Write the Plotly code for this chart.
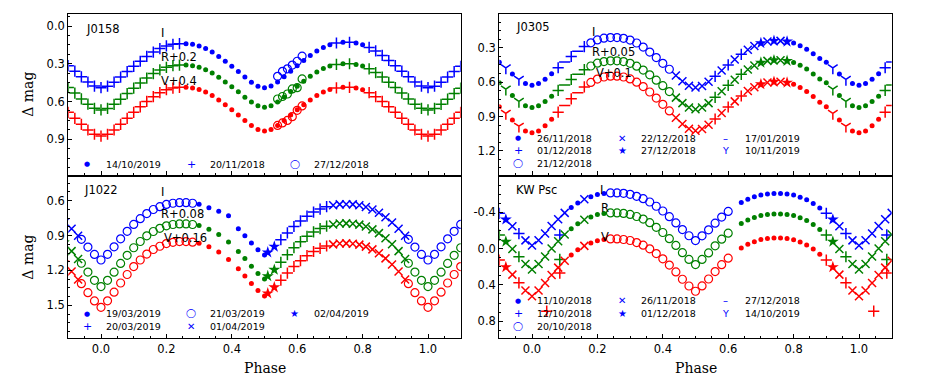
import plotly.graph_objects as go

# ---------------- data ----------------
phase_ticks = [0.0, 0.2, 0.4, 0.6, 0.8, 1.0]
phase_labels = ["0.0", "0.2", "0.4", "0.6", "0.8", "1.0"]

# J0158
j0158_dates = ["14/10/2019", "20/11/2018", "27/12/2018"]
j0158_marks = ["dot", "plus", "circle"]
j0158_bands = ["I", "R+0.2", "V+0.4"]
j0158_yticks = [0.0, 0.3, 0.6, 0.9]
j0158_ylabels = ["0.0", "0.3", "0.6", "0.9"]
j0158_phase = [0.00, 0.02, 0.04, 0.06, 0.08, 0.10, 0.12, 0.14, 0.16, 0.18, 0.20, 0.22, 0.24,
               0.26, 0.28, 0.30, 0.32, 0.34, 0.36, 0.38, 0.40, 0.42, 0.44, 0.46, 0.48,
               0.50, 0.52, 0.54, 0.56, 0.58, 0.60, 0.62, 0.64, 0.66, 0.68, 0.70, 0.72, 0.74,
               0.76, 0.78, 0.80, 0.82, 0.84, 0.86, 0.88, 0.90, 0.92, 0.94, 0.96, 0.98,
               0.54, 0.555, 0.57, 0.585, 0.60, 0.615]
j0158_I = [0.490, 0.478, 0.446, 0.406, 0.362, 0.320, 0.280, 0.242, 0.207, 0.179, 0.158, 0.145, 0.140,
           0.140, 0.145, 0.158, 0.179, 0.207, 0.242, 0.280, 0.320, 0.362, 0.406, 0.446, 0.478,
           0.490, 0.477, 0.445, 0.404, 0.359, 0.315, 0.274, 0.234, 0.198, 0.170, 0.148, 0.135, 0.130,
           0.130, 0.135, 0.148, 0.170, 0.198, 0.234, 0.274, 0.315, 0.359, 0.404, 0.445, 0.477,
           0.40, 0.36, 0.34, 0.31, 0.28, 0.24]
j0158_R = [0.667, 0.655, 0.622, 0.581, 0.537, 0.494, 0.453, 0.414, 0.378, 0.349, 0.328, 0.315, 0.310,
           0.310, 0.315, 0.327, 0.347, 0.374, 0.407, 0.444, 0.483, 0.523, 0.565, 0.604, 0.634,
           0.646, 0.634, 0.603, 0.563, 0.520, 0.478, 0.438, 0.400, 0.366, 0.338, 0.317, 0.305, 0.300,
           0.300, 0.306, 0.318, 0.340, 0.370, 0.406, 0.447, 0.489, 0.533, 0.579, 0.621, 0.654,
           0.58, 0.56, 0.54, 0.50, 0.49, 0.42]
j0158_V = [0.874, 0.860, 0.826, 0.781, 0.733, 0.686, 0.642, 0.599, 0.561, 0.530, 0.506, 0.493, 0.487,
           0.487, 0.492, 0.504, 0.525, 0.553, 0.588, 0.626, 0.666, 0.707, 0.751, 0.791, 0.822,
           0.834, 0.822, 0.791, 0.751, 0.707, 0.666, 0.626, 0.588, 0.553, 0.525, 0.504, 0.492, 0.487,
           0.487, 0.493, 0.506, 0.530, 0.561, 0.599, 0.642, 0.686, 0.733, 0.781, 0.826, 0.860,
           0.79, 0.77, 0.75, 0.72, 0.67, 0.635]
j0158_night = [1, 1, 1, 1, 1, 1, 1, 1, 1, 1, 1, 1, 1,
               0, 0, 0, 0, 0, 0, 0, 0, 0, 0, 0, 0,
               0, 0, 0, 0, 0, 0, 0, 0, 0, 0, 0, 1, 0,
               1, 0, 0, 1, 1, 1, 1, 1, 1, 1, 1, 1,
               2, 2, 2, 2, 2, 2]

# J0305
j0305_dates = ["26/11/2018", "01/12/2018", "21/12/2018", "22/12/2018",
               "27/12/2018", "17/01/2019", "10/11/2019"]
j0305_marks = ["dot", "plus", "circle", "x", "star", "dash", "tri"]
j0305_bands = ["I", "R+0.05", "V+0.1"]
j0305_yticks = [0.3, 0.6, 0.9, 1.2]
j0305_ylabels = ["0.3", "0.6", "0.9", "1.2"]
j0305_phase = [0.00, 0.02, 0.04, 0.06, 0.08, 0.10, 0.12, 0.14, 0.16, 0.18, 0.20, 0.22, 0.24,
               0.26, 0.28, 0.30, 0.32, 0.34, 0.36, 0.38, 0.40, 0.42, 0.44, 0.46, 0.48,
               0.50, 0.52, 0.54, 0.56, 0.58, 0.60, 0.62, 0.64, 0.66, 0.68, 0.70, 0.72, 0.74,
               0.76, 0.78, 0.80, 0.82, 0.84, 0.86, 0.88, 0.90, 0.92, 0.94, 0.96, 0.98]
j0305_I = [0.626, 0.611, 0.574, 0.526, 0.474, 0.424, 0.376, 0.331, 0.289, 0.256, 0.231, 0.216, 0.210,
           0.210, 0.217, 0.232, 0.258, 0.293, 0.337, 0.385, 0.435, 0.487, 0.542, 0.592, 0.632,
           0.647, 0.633, 0.596, 0.549, 0.498, 0.449, 0.402, 0.357, 0.317, 0.284, 0.259, 0.245, 0.239,
           0.239, 0.245, 0.258, 0.282, 0.313, 0.351, 0.394, 0.425, 0.475, 0.528, 0.576, 0.612]
j0305_R = [0.821, 0.807, 0.770, 0.723, 0.672, 0.624, 0.577, 0.532, 0.491, 0.459, 0.434, 0.420, 0.414,
           0.414, 0.420, 0.435, 0.460, 0.494, 0.536, 0.583, 0.631, 0.682, 0.735, 0.783, 0.821,
           0.836, 0.821, 0.783, 0.733, 0.680, 0.628, 0.579, 0.532, 0.489, 0.455, 0.429, 0.414, 0.408,
           0.408, 0.414, 0.429, 0.453, 0.486, 0.528, 0.573, 0.605, 0.660, 0.716, 0.767, 0.807]
j0305_V = [1.043, 1.026, 0.981, 0.924, 0.862, 0.803, 0.746, 0.692, 0.642, 0.602, 0.573, 0.555, 0.548,
           0.548, 0.555, 0.572, 0.600, 0.639, 0.686, 0.739, 0.794, 0.851, 0.911, 0.965, 1.008,
           1.025, 1.010, 0.972, 0.922, 0.869, 0.817, 0.768, 0.721, 0.678, 0.644, 0.618, 0.603, 0.597,
           0.597, 0.604, 0.619, 0.646, 0.682, 0.726, 0.775, 0.815, 0.872, 0.930, 0.985, 1.027]
j0305_night = [0, 0, 0, 0, 1, 5, 1, 5, 1, 2, 2, 2, 2,
               2, 2, 2, 2, 2, 2, 2, 2, 2, 3, 3, 3,
               3, 3, 3, 1, 3, 1, 3, 1, 3, 3, 4, 3, 4,
               3, 4, 0, 0, 0, 0, 0, 0, 6, 0, 6, 0]

# J1022
j1022_dates = ["19/03/2019", "20/03/2019", "21/03/2019", "01/04/2019", "02/04/2019"]
j1022_marks = ["dot", "plus", "circle", "x", "star"]
j1022_bands = ["I", "R+0.08", "V+0.16"]
j1022_yticks = [0.6, 0.9, 1.2, 1.5]
j1022_ylabels = ["0.6", "0.9", "1.2", "1.5"]
j1022_phase = [0.00, 0.02, 0.04, 0.06, 0.08, 0.10, 0.12, 0.14, 0.16, 0.18, 0.20, 0.22, 0.24, 0.26, 0.28,
               0.30, 0.33, 0.36, 0.39, 0.42, 0.44, 0.46, 0.48, 0.50,
               0.51, 0.53,
               0.55, 0.57, 0.59, 0.61, 0.63, 0.65, 0.67, 0.69,
               0.71, 0.73, 0.75, 0.77, 0.79, 0.81, 0.83, 0.85, 0.87, 0.89, 0.91, 0.93,
               0.94, 0.96, 0.98]
j1022_I = [1.110, 1.061, 0.997, 0.928, 0.864, 0.804, 0.755, 0.711, 0.676, 0.652, 0.632, 0.622, 0.617, 0.617, 0.622,
           0.631, 0.660, 0.690, 0.730, 0.842, 0.901, 0.964, 1.022, 1.067,
           1.045, 0.995,
           0.936, 0.877, 0.822, 0.774, 0.733, 0.698, 0.672, 0.652,
           0.639, 0.632, 0.630, 0.632, 0.640, 0.654, 0.676, 0.704, 0.743, 0.788, 0.841, 0.901,
           0.932, 0.999, 1.062]
j1022_R = [1.339, 1.285, 1.215, 1.140, 1.070, 1.005, 0.951, 0.902, 0.865, 0.838, 0.816, 0.805, 0.800, 0.800, 0.805,
           0.814, 0.845, 0.890, 0.956, 1.037, 1.098, 1.164, 1.226, 1.273,
           1.249, 1.194,
           1.130, 1.065, 1.005, 0.953, 0.907, 0.869, 0.840, 0.819,
           0.805, 0.797, 0.795, 0.798, 0.806, 0.822, 0.847, 0.879, 0.923, 0.975, 1.034, 1.102,
           1.138, 1.214, 1.285]
j1022_V = [1.517, 1.461, 1.387, 1.308, 1.235, 1.167, 1.110, 1.059, 1.020, 0.992, 0.969, 0.958, 0.952, 0.952, 0.957,
           0.966, 0.996, 1.041, 1.106, 1.186, 1.247, 1.312, 1.373, 1.420,
           1.397, 1.345,
           1.284, 1.223, 1.166, 1.116, 1.073, 1.037, 1.010, 0.990,
           0.976, 0.969, 0.967, 0.970, 0.978, 0.995, 1.019, 1.052, 1.096, 1.149, 1.209, 1.278,
           1.314, 1.391, 1.462]
j1022_night = [2, 2, 2, 2, 2, 2, 2, 2, 2, 2, 2, 2, 2, 2, 2,
               0, 0, 0, 0, 0, 0, 0, 0, 0,
               4, 4,
               1, 1, 1, 1, 1, 1, 1, 1,
               3, 3, 3, 3, 3, 3, 3, 3, 3, 3, 3, 3,
               2, 2, 2]

# KW Psc
kwpsc_dates = ["11/10/2018", "12/10/2018", "20/10/2018", "26/11/2018",
               "01/12/2018", "27/12/2018", "14/10/2019"]
kwpsc_marks = ["dot", "plus", "circle", "x", "star", "dash", "tri"]
kwpsc_bands = ["I", "R", "V"]
kwpsc_yticks = [-0.4, 0.0, 0.4, 0.8]
kwpsc_ylabels = ["-0.4", "0.0", "0.4", "0.8"]
kwpsc_phase = [0.00, 0.02, 0.04, 0.06, 0.08, 0.10, 0.12, 0.14, 0.16, 0.18, 0.20, 0.22, 0.24,
               0.26, 0.28, 0.30, 0.32, 0.34, 0.36, 0.38, 0.40, 0.42, 0.44, 0.46, 0.48,
               0.50, 0.52, 0.54, 0.56, 0.58, 0.60,
               0.64, 0.66, 0.68, 0.70, 0.72, 0.74,
               0.76, 0.78, 0.80, 0.82, 0.84, 0.86, 0.88, 0.90, 0.92, 0.94, 0.96, 0.98,
               0.045, 0.085]
kwpsc_I = [-0.033, -0.091, -0.166, -0.248, -0.323, -0.393, -0.451, -0.503, -0.543, -0.572, -0.596, -0.607, -0.613,
           -0.613, -0.608, -0.597, -0.576, -0.550, -0.513, -0.466, -0.414, -0.351, -0.282, -0.209, -0.141,
           -0.088, -0.140, -0.207, -0.280, -0.347, -0.409,
           -0.508, -0.544, -0.570, -0.590, -0.601, -0.606,
           -0.606, -0.600, -0.589, -0.566, -0.537, -0.497, -0.446, -0.388, -0.320, -0.245, -0.165, -0.090,
           None, -0.15]
kwpsc_R = [0.231, 0.169, 0.087, 0.000, -0.081, -0.156, -0.218, -0.274, -0.318, -0.349, -0.374, -0.387, -0.393,
           -0.393, -0.387, -0.376, -0.353, -0.325, -0.285, -0.234, -0.177, -0.109, -0.035, 0.045, 0.119,
           0.176, 0.120, 0.048, -0.030, -0.103, -0.170,
           -0.276, -0.315, -0.343, -0.365, -0.376, -0.382,
           -0.382, -0.376, -0.364, -0.339, -0.308, -0.266, -0.210, -0.149, -0.076, 0.004, 0.090, 0.170,
           None, 0.12]
kwpsc_V = [0.525, 0.462, 0.380, 0.292, 0.210, 0.134, 0.071, 0.014, -0.030, -0.062, -0.087, -0.100, -0.106,
           -0.106, -0.100, -0.089, -0.066, -0.037, 0.003, 0.055, 0.113, 0.182, 0.257, 0.338, 0.412,
           0.470, 0.411, 0.335, 0.253, 0.177, 0.106,
           -0.005, -0.047, -0.076, -0.099, -0.111, -0.117,
           -0.117, -0.111, -0.098, -0.072, -0.040, 0.005, 0.063, 0.127, 0.204, 0.287, 0.377, 0.461,
           0.69, 0.27]
kwpsc_night = [3, 3, 3, 3, 3, 3, 0, 0, 3, 0, 0, 0, 2,
               2, 2, 2, 2, 2, 2, 2, 2, 2, 2, 2, 2,
               2, 2, 2, 2, 2, 2,
               0, 0, 0, 0, 0, 0,
               0, 0, 0, 0, 0, 0, 0, 1, 4, 3, 1, 3,
               1, 1]

# ---------------- styling ----------------
W, H = 927, 381
band_colors = ["#0000ff", "#008000", "#ff0000"]
marker_style = {
    "dot": ("circle", 5, 0),
    "plus": ("cross-thin", 8, 1.5),
    "circle": ("circle-open", 8, 1.2),
    "x": ("x-thin", 8, 1.5),
    "star": ("star", 9, 0),
    "dash": ("line-ew", 8, 1.5),
    "tri": ("y-down", 8, 1.5),
}
legend_glyph = {"dot": ("●", 7), "plus": ("+", 11), "circle": ("◯", 9), "x": ("✕", 10),
                "star": ("★", 10), "dash": ("–", 10), "tri": ("Y", 9.5)}

col_left = [68.3, 499.3]
panel_w = 392.4
row_top = [14.3, 177.3]
row_bottom = [175.3, 338.0]

panels = [
    dict(name="J0158", dates=j0158_dates, marks=j0158_marks, bands=j0158_bands,
         phase=j0158_phase, mags=[j0158_I, j0158_R, j0158_V], night=j0158_night,
         yticks=j0158_yticks, ylabels=j0158_ylabels, yrange=[1.186, -0.093], minor=0.075,
         name_pos=(85, 29), band_pos=[(159.5, 33), (160, 57), (160, 81)], legend_rows=[164]),
    dict(name="J0305", dates=j0305_dates, marks=j0305_marks, bands=j0305_bands,
         phase=j0305_phase, mags=[j0305_I, j0305_R, j0305_V], night=j0305_night,
         yticks=j0305_yticks, ylabels=j0305_ylabels, yrange=[1.414, 0.007], minor=0.075,
         name_pos=(515, 27), band_pos=[(591, 32), (591, 52), (595, 73)],
         legend_rows=[138.3, 150.7, 163.3]),
    dict(name="J1022", dates=j1022_dates, marks=j1022_marks, bands=j1022_bands,
         phase=j1022_phase, mags=[j1022_I, j1022_R, j1022_V], night=j1022_night,
         yticks=j1022_yticks, ylabels=j1022_ylabels, yrange=[1.781, 0.399], minor=0.075,
         name_pos=(83, 190), band_pos=[(159.5, 192), (160, 214), (163, 238)],
         legend_rows=[313.5, 326]),
    dict(name="KW Psc", dates=kwpsc_dates, marks=kwpsc_marks, bands=kwpsc_bands,
         phase=kwpsc_phase, mags=[kwpsc_I, kwpsc_R, kwpsc_V], night=kwpsc_night,
         yticks=kwpsc_yticks, ylabels=kwpsc_ylabels, yrange=[0.985, -0.785], minor=0.1,
         name_pos=(515, 190), band_pos=[(598.5, 190), (600, 208), (600, 237)],
         legend_rows=[300.7, 313.3, 326]),
]


def px(x):
    return x / W


def py(y):
    return 1 - y / H


fig = go.Figure()
annotations = []
tick_font = dict(family="DejaVu Sans", size=11.5, color="black")
text_font = dict(family="DejaVu Sans", size=11.5, color="black")

for k, p in enumerate(panels):
    row, col = divmod(k, 2)
    suffix = "" if k == 0 else str(k + 1)
    xa, ya = "x" + suffix, "y" + suffix

    # points, each observation also shown one period earlier / later
    for n, mark in enumerate(p["marks"]):
        sym, size, lw = marker_style[mark]
        for b, mags in enumerate(p["mags"]):
            xs, ys = [], []
            for ph, m, nt in zip(p["phase"], mags, p["night"]):
                if nt != n or m is None:
                    continue
                for shift in (-1, 0, 1):
                    if -0.12 <= ph + shift <= 1.12:
                        xs.append(ph + shift)
                        ys.append(m)
            if not xs:
                continue
            fig.add_trace(go.Scatter(
                x=xs, y=ys, mode="markers", xaxis=xa, yaxis=ya, showlegend=False,
                hoverinfo="skip",
                marker=dict(symbol=sym, size=size, color=band_colors[b],
                            line=dict(width=lw, color=band_colors[b]))))

    x0 = col_left[col]
    fig.update_layout(**{
        "xaxis" + suffix: dict(
            domain=[px(x0), px(x0 + panel_w)], anchor=ya, range=[-0.1, 1.1],
            tickmode="array", tickvals=phase_ticks, ticktext=phase_labels,
            showticklabels=(row == 1), ticks="inside", ticklen=4, tickwidth=1,
            tickcolor="black", tickfont=tick_font,
            minor=dict(ticks="inside", ticklen=2, tickwidth=1, tickcolor="black",
                       tick0=0, dtick=0.05, showgrid=False),
            showline=True, linecolor="black", linewidth=1.2, mirror=True,
            showgrid=False, zeroline=False),
        "yaxis" + suffix: dict(
            domain=[py(row_bottom[row]), py(row_top[row])], anchor=xa, range=p["yrange"],
            tickmode="array", tickvals=p["yticks"], ticktext=p["ylabels"],
            ticks="inside", ticklen=4, tickwidth=1, tickcolor="black", tickfont=tick_font,
            minor=dict(ticks="inside", ticklen=2, tickwidth=1, tickcolor="black",
                       tick0=0, dtick=p["minor"], showgrid=False),
            showline=True, linecolor="black", linewidth=1.2, mirror=True,
            showgrid=False, zeroline=False),
    })

    # star name and band labels
    annotations.append(dict(x=px(p["name_pos"][0]), y=py(p["name_pos"][1]), text=p["name"],
                            xanchor="left", yanchor="middle"))
    for (bx, by), lab in zip(p["band_pos"], p["bands"]):
        annotations.append(dict(x=px(bx), y=py(by), text=lab, xanchor="left", yanchor="middle"))

    # legend (3 columns, filled column by column)
    nd = len(p["dates"])
    base, extra = divmod(nd, 3)
    sizes = [base + 1 if c < extra else base for c in range(3)]
    idx = 0
    for c in range(3):
        for r in range(sizes[c]):
            glyph, gsize = legend_glyph[p["marks"][idx]]
            yy = py(p["legend_rows"][r])
            annotations.append(dict(x=px(x0 + 19 + 103.7 * c), y=yy, text=glyph,
                                    xanchor="center", yanchor="middle",
                                    font=dict(family="DejaVu Sans", size=gsize, color=band_colors[0])))
            annotations.append(dict(x=px(x0 + 37 + 103.7 * c), y=yy, text=p["dates"][idx],
                                    xanchor="left", yanchor="middle",
                                    font=dict(family="DejaVu Sans", size=9.5, color="black")))
            idx += 1

# axis titles
for row in range(2):
    annotations.append(dict(x=px(28), y=py((row_top[row] + row_bottom[row]) / 2), text="Δ mag",
                            textangle=-90, xanchor="center", yanchor="middle",
                            font=dict(family="DejaVu Serif", size=14, color="black")))
for col in range(2):
    annotations.append(dict(x=px(col_left[col] + panel_w / 2), y=py(367.7), text="Phase",
                            xanchor="center", yanchor="middle",
                            font=dict(family="DejaVu Serif", size=14, color="black")))

for a in annotations:
    a.setdefault("font", text_font)
    a.update(xref="paper", yref="paper", showarrow=False, borderpad=0)

fig.update_layout(width=W, height=H, margin=dict(l=0, r=0, t=0, b=0),
                  paper_bgcolor="white", plot_bgcolor="white",
                  annotations=annotations, showlegend=False)

fig.write_html("out.html", config={"displayModeBar": False},
               post_script="document.body.style.margin='0';document.body.style.padding='0';")
